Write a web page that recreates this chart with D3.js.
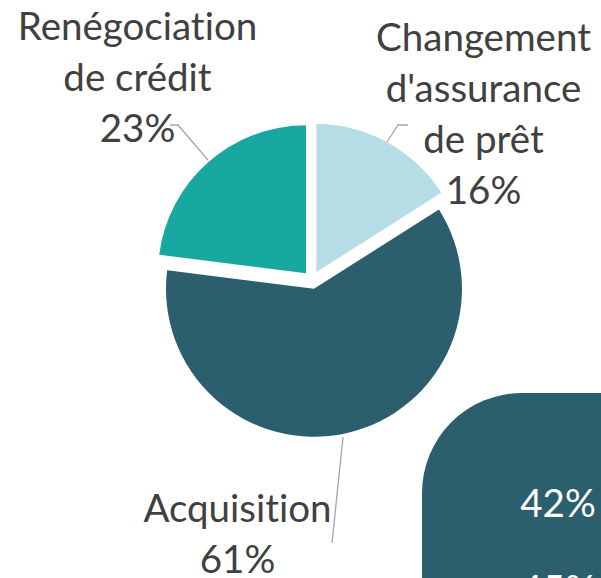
<!DOCTYPE html>
<html>
<head>
<meta charset="utf-8">
<script src="https://cdn.jsdelivr.net/npm/d3@7"></script>
<style>
  html, body { margin: 0; padding: 0; background: #fff; overflow: hidden; }
  svg { display: block; }
  .lbl, .card-txt { font-family: Lato, "Open Sans", sans-serif; font-size: 38.5px; font-variant-ligatures: none; }
  .lbl { fill: #404040; }
  .card-txt { fill: #ffffff; }
</style>
</head>
<body>
<svg id="chart"></svg>
<script>
// chart data
const categories = ["Changement d'assurance de prêt", "Acquisition", "Renégociation de crédit"];
const labelLines = [["Changement", "d'assurance", "de prêt"], ["Acquisition"], ["Renégociation", "de crédit"]];
const values = [16, 61, 23];
const colors = ["#b6dde6", "#2c5f6e", "#17a9a1"];

// overlapping card in the corner (partly visible)
const cardValues = ["42%", "45%"];

const width = 601, height = 578;
const cx = 312, cy = 280, radius = 148, explode = 9;

// label block centres (x) and first baseline (y), relative to the pie centre
const labelPos = [
    { dx: 171.5, dy: -229 },
    { dx: -74.5, dy: 242 },
    { dx: -174.5, dy: -240 }
];
const lineH = 51;

const svg = d3.select("#chart")
    .attr("width", width)
    .attr("height", height);

const pie = d3.pie().sort(null).value(d => d);
const arcs = pie(values);
const arc = d3.arc().innerRadius(0).outerRadius(radius);

const g = svg.append("g").attr("transform", `translate(${cx},${cy})`);

g.selectAll("path.slice")
    .data(arcs)
    .enter()
    .append("path")
    .attr("class", "slice")
    .attr("transform", d => {
        let a = (d.startAngle + d.endAngle) / 2;
        return `translate(${Math.sin(a) * explode},${-Math.cos(a) * explode})`;
    })
    .attr("d", arc)
    .attr("fill", (d, i) => colors[i]);

// leader lines
const leaders = [
    [[96, -155], [86, -155], [75, -138]],
    [[31, 157], [20, 263]],
    [[-142, -155], [-134, -155], [-104, -120]]
];
g.selectAll("path.leader")
    .data(leaders)
    .enter()
    .append("path")
    .attr("class", "leader")
    .attr("d", d => d3.line()(d))
    .attr("fill", "none")
    .attr("stroke", "#a6a6a6")
    .attr("stroke-width", 1.3);

// labels
const lab = g.selectAll("text.lbl")
    .data(arcs)
    .enter()
    .append("text")
    .attr("class", "lbl")
    .attr("text-anchor", "middle")
    .attr("transform", (d, i) => `translate(${labelPos[i].dx},${labelPos[i].dy})`);

lab.each(function (d, i) {
    let t = d3.select(this);
    let lines = labelLines[i].concat([d3.format(".0f")(d.data) + "%"]);
    lines.forEach((s, j) => {
        t.append("tspan").attr("x", 0).attr("y", j * lineH).text(s);
    });
});

// corner card
const card = svg.append("g");
card.append("rect")
    .attr("x", 422).attr("y", 393)
    .attr("width", 320).attr("height", 300)
    .attr("rx", 100).attr("ry", 100)
    .attr("fill", "#2c5f6e");
card.selectAll("text")
    .data(cardValues)
    .enter()
    .append("text")
    .attr("class", "card-txt")
    .attr("x", 558)
    .attr("y", (d, i) => 517 + i * 86)
    .attr("text-anchor", "middle")
    .text(d => d);
</script>
</body>
</html>
